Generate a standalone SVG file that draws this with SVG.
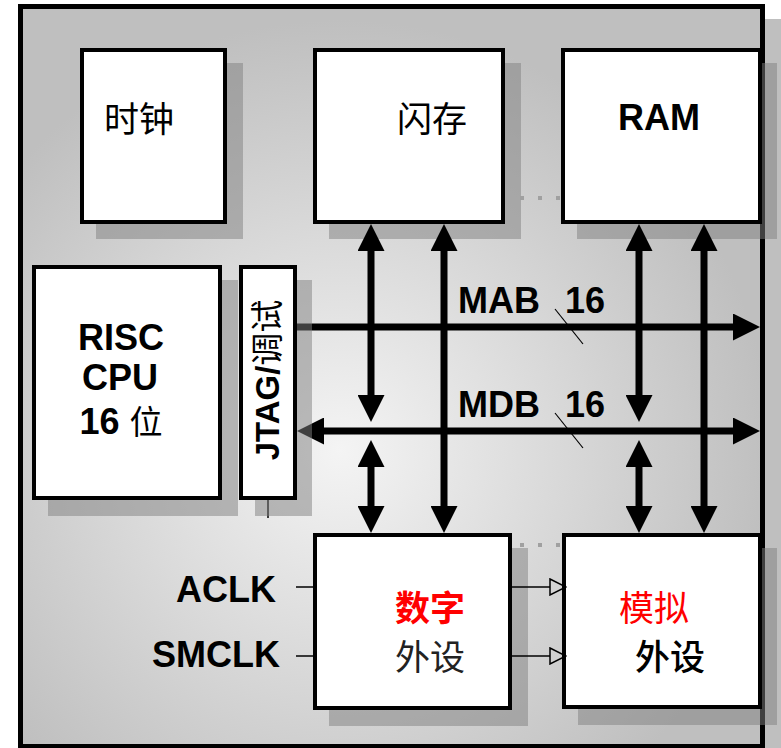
<svg xmlns="http://www.w3.org/2000/svg" width="781" height="748" viewBox="0 0 781 748">
<style>
.box{fill:#fff;stroke:#000;stroke-width:4}
.sh{fill:#808080;fill-opacity:0.5}
.bus{stroke:#000;stroke-width:7;fill:none}
.thin{stroke:#000;stroke-width:1.5;fill:none}
.dots{stroke:#a0a0a0;stroke-width:4;stroke-dasharray:4 14;fill:none}
.lb{font-family:"Liberation Sans",Arial,"Noto Sans CJK SC",sans-serif;font-weight:bold;font-size:36px;fill:#000}
.cj{font-family:"Noto Sans CJK SC","Liberation Sans",sans-serif;font-size:35px;fill:#000}
</style>
<defs>
<radialGradient id="bg" gradientUnits="userSpaceOnUse" cx="340" cy="450" r="430">
<stop offset="0" stop-color="#f4f4f4"/>
<stop offset="1" stop-color="#bfbfbf"/>
</radialGradient>
<marker id="ah" markerUnits="userSpaceOnUse" markerWidth="27" markerHeight="27" refX="7" refY="13.5" orient="auto-start-reverse" viewBox="0 0 27 27">
<path d="M0,0 L27,13.5 L0,27 Z" fill="#000"/>
</marker>
<marker id="oh" markerUnits="userSpaceOnUse" markerWidth="18" markerHeight="18" refX="1" refY="9" orient="auto" viewBox="0 0 18 18">
<path d="M1,1 L17,9 L1,17 Z" fill="none" stroke="#000" stroke-width="1.5"/>
</marker>
</defs>

<g id="frame">
<rect x="33" y="19" width="760" height="760" class="sh"/>
<rect x="20.5" y="6.5" width="742" height="740" fill="url(#bg)" stroke="#000" stroke-width="5"/>
</g>

<g id="bus-connectors">
<line x1="297" y1="327" x2="740" y2="327" class="bus" marker-end="url(#ah)"/>
<line x1="317" y1="431" x2="740" y2="431" class="bus" marker-start="url(#ah)" marker-end="url(#ah)"/>
<line x1="268" y1="500" x2="268" y2="518" class="thin"/>
</g>

<g id="shadows">
<rect x="96" y="63" width="147" height="176" class="sh"/>
<rect x="329" y="63" width="192" height="176" class="sh"/>
<rect x="577" y="63" width="200" height="176" class="sh"/>
<rect x="48" y="280" width="190" height="236" class="sh"/>
<rect x="255" y="280" width="57" height="236" class="sh"/>
<rect x="329" y="548" width="199" height="178" class="sh"/>
<rect x="578" y="548" width="199" height="177" class="sh"/>
</g>

<g id="clock">
<rect x="82" y="50" width="143" height="172" class="box"/>
<text x="139" y="132" class="cj" text-anchor="middle">时钟</text>
</g>

<g id="flash">
<rect x="315" y="50" width="188" height="172" class="box"/>
<text x="432" y="132" class="cj" text-anchor="middle">闪存</text>
</g>

<g id="ram">
<rect x="563" y="50" width="197" height="172" class="box"/>
<text x="659" y="130" class="lb" text-anchor="middle">RAM</text>
</g>

<g id="cpu">
<rect x="34" y="267" width="186" height="231" class="box"/>
<text x="121" y="350" class="lb" text-anchor="middle">RISC</text>
<text x="120" y="390" class="lb" text-anchor="middle">CPU</text>
<text x="121" y="434" class="lb" text-anchor="middle">16 <tspan style="font-family:'Noto Sans CJK SC',sans-serif;font-weight:normal;font-size:33px">位</tspan></text>
</g>

<g id="jtag">
<rect x="241" y="267" width="54" height="231" class="box"/>
<text transform="translate(279,380) rotate(-90)" class="lb" style="font-size:33px" text-anchor="middle">JTAG/<tspan style="font-family:'Noto Sans CJK SC',sans-serif;font-weight:normal">调试</tspan></text>
</g>

<g id="digital">
<rect x="315" y="535" width="195" height="173" class="box"/>
<text x="430" y="621" class="cj" text-anchor="middle" style="fill:#ff0000;font-weight:bold">数字</text>
<text x="430" y="670" class="cj" text-anchor="middle" style="fill:#222">外设</text>
</g>

<g id="analog">
<rect x="564" y="535" width="196" height="172" class="box"/>
<text x="654" y="621" class="cj" text-anchor="middle" style="fill:#ff0000">模拟</text>
<text x="670" y="670" class="cj" text-anchor="middle" style="font-weight:500">外设</text>
</g>

<g id="aclk-label"><text x="276" y="602" class="lb" text-anchor="end">ACLK</text></g>
<g id="smclk-label"><text x="280" y="667" class="lb" text-anchor="end">SMCLK</text></g>

<g id="bus-labels">
<text x="458" y="313" class="lb">MAB</text>
<text x="565" y="313" class="lb">16</text>
<line x1="555" y1="309" x2="583" y2="344" stroke="#000" stroke-width="1.2"/>
<text x="458" y="417" class="lb">MDB</text>
<text x="565" y="417" class="lb">16</text>
<line x1="555" y1="413" x2="583" y2="448" stroke="#000" stroke-width="1.2"/>
</g>

<g id="connectors">
<line x1="371" y1="244" x2="371" y2="402" class="bus" marker-start="url(#ah)" marker-end="url(#ah)"/>
<line x1="371" y1="460" x2="371" y2="513" class="bus" marker-start="url(#ah)" marker-end="url(#ah)"/>
<line x1="444" y1="244" x2="444" y2="513" class="bus" marker-start="url(#ah)" marker-end="url(#ah)"/>
<line x1="639" y1="244" x2="639" y2="402" class="bus" marker-start="url(#ah)" marker-end="url(#ah)"/>
<line x1="639" y1="460" x2="639" y2="513" class="bus" marker-start="url(#ah)" marker-end="url(#ah)"/>
<line x1="704" y1="244" x2="704" y2="513" class="bus" marker-start="url(#ah)" marker-end="url(#ah)"/>
<line x1="296" y1="587" x2="313" y2="587" class="thin"/>
<line x1="296" y1="656" x2="313" y2="656" class="thin"/>
<line x1="512" y1="587" x2="550" y2="587" class="thin" marker-end="url(#oh)"/>
<line x1="512" y1="656" x2="550" y2="656" class="thin" marker-end="url(#oh)"/>
<line x1="520" y1="198" x2="561" y2="198" class="dots"/>
<line x1="520" y1="545" x2="562" y2="545" class="dots"/>
</g>
</svg>
